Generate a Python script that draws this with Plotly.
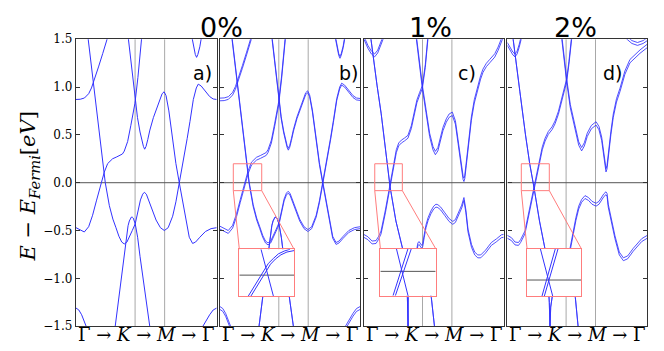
import plotly.graph_objects as go

W, H = 664, 351

# high-symmetry points as fraction of the Γ→K→M→Γ path
K_POS = 0.42
M_POS = 0.63
Y_TICKS = [-1.5, -1.0, -0.5, 0.0, 0.5, 1.0, 1.5]

TITLES = ["0%", "1%", "2%"]
PANEL_LABELS = ["a)", "b)", "c)", "d)"]
PATH_LABEL = "Γ → <i>K</i> → <i>M</i> → Γ"

# ---------------- panel a / b (0 %) ----------------
A_F = [0, 0.03, 0.06, 0.09, 0.11, 0.135, 0.16, 0.19, 0.225]
A_E = [0.87, 0.872, 0.885, 0.93, 0.99, 1.09, 1.21, 1.35, 1.52]

C2_F = [0.085, 0.123, 0.171, 0.208, 0.237, 0.262, 0.284, 0.305, 0.325, 0.343, 0.362, 0.38, 0.4,
        0.421, 0.44, 0.458, 0.474, 0.486, 0.5, 0.521, 0.545, 0.569, 0.6, 0.628, 0.655, 0.687,
        0.71, 0.734, 0.77, 0.79, 0.81, 0.834, 0.855, 0.869, 0.89, 0.92, 0.95, 0.975, 1.0]
C2_E = [1.52, 1.04, 0.43, 0.0, -0.24, -0.38, -0.47, -0.56, -0.62, -0.64, -0.62, -0.57, -0.5,
        -0.43, -0.3, -0.18, -0.12, -0.1, -0.12, -0.2, -0.3, -0.39, -0.47, -0.5, -0.47, -0.35,
        -0.2, 0.0, 0.26, 0.46, 0.64, 0.87, 0.99, 1.03, 1.01, 0.95, 0.9, 0.875, 0.87]

C1_F = [0, 0.03, 0.059, 0.09, 0.118, 0.145, 0.166, 0.185, 0.201, 0.225, 0.26, 0.29, 0.308,
        0.33, 0.343, 0.367, 0.39, 0.419, 0.44, 0.467]
C1_E = [-0.47, -0.49, -0.515, -0.46, -0.34, -0.19, -0.07, 0.03, 0.11, 0.2, 0.25, 0.27, 0.28,
        0.3, 0.33, 0.43, 0.6, 0.83, 1.1, 1.52]

C5_F = [0.371, 0.395, 0.419, 0.437, 0.455, 0.468, 0.479, 0.488, 0.498, 0.51, 0.525, 0.55, 0.573,
        0.595, 0.612, 0.626, 0.64, 0.66, 0.687, 0.71, 0.734, 0.76, 0.782, 0.805, 0.829, 0.85,
        0.88, 0.92, 0.96, 1.0]
C5_E = [1.52, 1.2, 0.87, 0.68, 0.53, 0.44, 0.38, 0.35, 0.38, 0.45, 0.55, 0.68, 0.78,
        0.88, 0.93, 0.95, 0.91, 0.75, 0.43, 0.2, 0.0, -0.2, -0.4, -0.57, -0.635, -0.62,
        -0.57, -0.51, -0.48, -0.47]

LAM_F = [0.277, 0.31, 0.339, 0.355, 0.37, 0.379, 0.386, 0.393, 0.4, 0.407, 0.421, 0.438, 0.455, 0.49, 0.526]
LAM_E = [-1.52, -1.12, -0.77, -0.57, -0.45, -0.4, -0.37, -0.36, -0.36, -0.37, -0.43, -0.57, -0.77, -1.15, -1.52]

V_F = [0.82, 0.835, 0.848, 0.857, 0.866, 0.88, 0.895]
V_E = [1.55, 1.42, 1.34, 1.31, 1.34, 1.42, 1.55]

ARCL_F = [0, 0.02, 0.04, 0.06, 0.08]
ARCL_E = [-1.31, -1.33, -1.38, -1.45, -1.53]
ARCR_F = [1.0, 0.975, 0.95, 0.92, 0.89]
ARCR_E = [-1.31, -1.33, -1.38, -1.45, -1.53]

# ---------------- panel c (1 %) ----------------
C1c_F = [0, 0.03, 0.06, 0.088, 0.105, 0.124, 0.155, 0.188, 0.21, 0.233, 0.25, 0.269, 0.29, 0.316,
         0.34, 0.36, 0.38, 0.40, 0.419, 0.44, 0.459]
C1c_E = [-0.555, -0.58, -0.625, -0.62, -0.58, -0.52, -0.3, -0.04, 0.16, 0.33, 0.4, 0.43, 0.45, 0.48,
         0.58, 0.72, 0.85, 0.93, 1.0, 1.22, 1.52]
C2c_F = [0.05, 0.066, 0.095, 0.125, 0.16, 0.188, 0.23, 0.278, 0.3, 0.312, 0.318]
C2c_E = [1.52, 1.33, 1.02, 0.72, 0.33, -0.04, -0.4, -0.69, -0.95, -1.2, -1.52]
C5c_F = [0.376, 0.398, 0.419, 0.445, 0.471, 0.495, 0.512, 0.53, 0.55, 0.566, 0.59, 0.61, 0.633,
         0.655, 0.674, 0.69, 0.702, 0.71, 0.716, 0.722, 0.733, 0.75, 0.769, 0.79, 0.816, 0.835,
         0.852, 0.876, 0.9, 0.936, 0.96, 0.983, 1.0]
C5c_E = [1.52, 1.25, 1.0, 0.75, 0.5, 0.36, 0.31, 0.35, 0.47, 0.56, 0.65, 0.7, 0.72,
         0.63, 0.43, 0.24, 0.1, 0.05, 0.03, 0.06, 0.2, 0.45, 0.67, 0.85, 1.0, 1.1,
         1.17, 1.23, 1.27, 1.33, 1.4, 1.5, 1.55]
Lc_F = [1.0, 0.983, 0.95, 0.912, 0.87, 0.836, 0.815, 0.793, 0.77, 0.745, 0.73, 0.716, 0.7, 0.674,
        0.655, 0.636, 0.61, 0.58, 0.55, 0.53, 0.516, 0.5, 0.48, 0.46, 0.445, 0.432, 0.422, 0.414,
        0.405, 0.395, 0.387, 0.38, 0.37, 0.36]
Lc_E = [-0.555, -0.56, -0.6, -0.64, -0.72, -0.77, -0.77, -0.74, -0.66, -0.5, -0.3, -0.17, -0.25, -0.34,
        -0.4, -0.42, -0.39, -0.33, -0.27, -0.245, -0.24, -0.26, -0.31, -0.38, -0.455, -0.56, -0.65, -0.67,
        -0.645, -0.63, -0.645, -0.69, -0.78, -0.88]
LAMc_F = [0.316, 0.318, 0.33, 0.35, 0.37, 0.39, 0.41, 0.43, 0.45, 0.467, 0.483, 0.507]
LAMc_E = [-1.52, -1.2, -1.0, -0.9, -0.86, -0.85, -0.86, -0.9, -0.98, -1.08, -1.2, -1.52]
Vc_F = [0.0, 0.03, 0.055, 0.078, 0.1, 0.12, 0.14]
Vc_E = [1.52, 1.42, 1.36, 1.33, 1.37, 1.44, 1.52]

# ---------------- panel d (2 %) ----------------
C1d_F = [0, 0.03, 0.055, 0.08, 0.095, 0.11, 0.126, 0.16, 0.191, 0.22, 0.25, 0.27, 0.293, 0.32,
         0.341, 0.365, 0.389, 0.424, 0.44, 0.46]
C1d_E = [-0.565, -0.59, -0.635, -0.64, -0.61, -0.57, -0.52, -0.28, -0.053, 0.15, 0.36, 0.45, 0.52, 0.57,
         0.63, 0.73, 0.87, 1.07, 1.25, 1.52]
C2d_F = [0.04, 0.055, 0.09, 0.13, 0.16, 0.191, 0.23, 0.269, 0.29, 0.3, 0.305]
C2d_E = [1.52, 1.36, 0.95, 0.5, 0.2, -0.053, -0.4, -0.69, -1.0, -1.25, -1.52]
C5d_F = [0.389, 0.405, 0.424, 0.45, 0.484, 0.51, 0.531, 0.55, 0.571, 0.6, 0.634, 0.655, 0.674,
         0.69, 0.7, 0.705, 0.712, 0.721, 0.74, 0.757, 0.78, 0.805, 0.84, 0.876, 0.91, 0.948, 1.0]
C5d_E = [1.52, 1.3, 1.07, 0.8, 0.56, 0.41, 0.35, 0.4, 0.5, 0.58, 0.62, 0.57, 0.46,
         0.3, 0.18, 0.13, 0.16, 0.3, 0.52, 0.7, 0.86, 0.97, 1.15, 1.27, 1.32, 1.37, 1.43]
Ld_F = [1.0, 0.96, 0.9, 0.86, 0.829, 0.8, 0.769, 0.745, 0.721, 0.713, 0.705, 0.69, 0.674, 0.655,
        0.634, 0.605, 0.58, 0.555, 0.531, 0.51, 0.49, 0.47, 0.448, 0.435, 0.42]
Ld_E = [-0.565, -0.6, -0.7, -0.78, -0.8, -0.74, -0.57, -0.42, -0.24, -0.13, -0.11, -0.13, -0.17, -0.21,
        -0.23, -0.21, -0.17, -0.15, -0.19, -0.26, -0.38, -0.52, -0.69, -0.8, -0.92]
LAMd_F = [0.305, 0.31, 0.33, 0.36, 0.39, 0.41, 0.43, 0.45, 0.47, 0.486, 0.507]
LAMd_E = [-1.52, -1.3, -1.1, -0.95, -0.9, -0.9, -0.93, -1.0, -1.1, -1.2, -1.52]
Vd_F = [0.0, 0.02, 0.04, 0.055, 0.07, 0.085, 0.1]
Vd_E = [1.45, 1.4, 1.35, 1.33, 1.36, 1.43, 1.52]
Td_F = [0.85, 0.89, 0.93, 0.97, 1.0]
Td_E = [1.52, 1.47, 1.45, 1.47, 1.5]

# spin splitting (eV) per band
PANELS = [
    [(A_F, A_E, 0), (C2_F, C2_E, 0), (C1_F, C1_E, 0), (C5_F, C5_E, 0), (LAM_F, LAM_E, 0),
     (V_F, V_E, 0), (ARCL_F, ARCL_E, 0), (ARCR_F, ARCR_E, 0)],
    [(A_F, A_E, 0.028), (C2_F, C2_E, 0.02), (C1_F, C1_E, 0.03), (C5_F, C5_E, 0.02), (LAM_F, LAM_E, 0.0),
     (V_F, V_E, 0.02), (ARCL_F, ARCL_E, 0.03), (ARCR_F, ARCR_E, 0.03)],
    [(C1c_F, C1c_E, 0.03), (C2c_F, C2c_E, 0.0), (C5c_F, C5c_E, 0.035), (Lc_F, Lc_E, 0.03),
     (LAMc_F, LAMc_E, 0.0), (Vc_F, Vc_E, 0.03)],
    [(C1d_F, C1d_E, 0.03), (C2d_F, C2d_E, 0.0), (C5d_F, C5d_E, 0.035), (Ld_F, Ld_E, 0.03),
     (LAMd_F, LAMd_E, 0.0), (Vd_F, Vd_E, 0.03), (Td_F, Td_E, 0.03)],
]

# insets: panel index, small box (f0,f1,E0,E1), inset box (f0,f1,E0,E1), inset Fermi level
INSETS = [
    (1, (0.095, 0.298, -0.083, 0.198), (0.138, 0.529, -1.184, -0.695), 0.446),
    (2, (0.079, 0.276, -0.083, 0.198), (0.119, 0.514, -1.181, -0.689), 0.517),
    (3, (0.100, 0.300, -0.083, 0.198), (0.141, 0.529, -1.184, -0.690), 0.338),
]
# inset curves in inset-local coordinates
INSET_LINES = [
    [([0.396, 0.5, 0.622], [1, 0.55, 0]),
     ([0.165, 0.26, 0.348, 0.44, 0.53, 0.62, 0.713, 0.82, 0.927], [0, 0.18, 0.358, 0.53, 0.696, 0.8, 0.9, 0.96, 1.0]),
     ([0.213, 0.3, 0.39, 0.48, 0.57, 0.66, 0.76, 0.87, 1.0], [0, 0.17, 0.35, 0.52, 0.68, 0.79, 0.88, 0.94, 0.97])],
    [([0.29, 0.5], [1, 0]), ([0.229, 0.5], [0, 1]), ([0.271, 0.56], [0, 1])],
    [([0.245, 0.472], [1, 0]), ([0.276, 0.521], [0, 1]), ([0.319, 0.571], [0, 1])],
]

# ---------------- geometry (pixels -> paper) ----------------
XD = [(76 / W, 216.7 / W), (220 / W, 360 / W), (363.7 / W, 503.7 / W), (507.3 / W, 647.3 / W)]
YD = ((H - 332.5) / H, (H - 33.5) / H)


def pxx(x):
    return x / W


def pxy(y):
    return 1 - y / H


def fx(i, f):
    return XD[i][0] + f * (XD[i][1] - XD[i][0])


def ey(E):
    return YD[0] + (E + 1.5) / 3.0 * (YD[1] - YD[0])


BLUE = "rgb(50,50,255)"
FRAME = "#333333"
RED = "rgb(255,125,125)"

fig = go.Figure()
layout = dict(width=W, height=H, margin=dict(l=0, r=0, t=0, b=0), autosize=False,
              paper_bgcolor="white", plot_bgcolor="white", showlegend=False)
shapes = []
annotations = []

for i, bands in enumerate(PANELS):
    n = i + 1
    xa = "x" if n == 1 else f"x{n}"
    ya = "y" if n == 1 else f"y{n}"
    layout["xaxis" if n == 1 else f"xaxis{n}"] = dict(
        domain=list(XD[i]), range=[0, 1], anchor=ya, showgrid=False, zeroline=False,
        showticklabels=False, ticks="", showline=True, mirror=True, linecolor=FRAME, linewidth=1.4)
    layout["yaxis" if n == 1 else f"yaxis{n}"] = dict(
        domain=list(YD), range=[-1.5, 1.5], anchor=xa, showgrid=False, zeroline=False,
        tickvals=Y_TICKS, tickformat=".1f", ticks="inside", ticklen=4, tickcolor=FRAME,
        showticklabels=(n == 1), showline=True, mirror="ticks", linecolor=FRAME, linewidth=1.4,
        tickfont=dict(family="DejaVu Serif", size=12, color="black"))
    # K, M and Fermi reference lines
    for xv in (K_POS, M_POS):
        shapes.append(dict(type="line", xref=xa, yref=ya, x0=xv, x1=xv, y0=-1.5, y1=1.5,
                           line=dict(color="#a8a8a8", width=1), layer="below"))
    shapes.append(dict(type="line", xref=xa, yref=ya, x0=0, x1=1, y0=0, y1=0,
                       line=dict(color="#555555", width=1), layer="below"))
    for fs, es, sp in bands:
        offs = [0.0] if (i == 0) else [-sp / 2, sp / 2]
        for o in offs:
            fig.add_trace(go.Scatter(x=fs, y=[e + o for e in es], mode="lines",
                                     line=dict(color=BLUE, width=1 if i == 0 else 0.85),
                                     xaxis=xa, yaxis=ya, hoverinfo="skip"))
    annotations.append(dict(text=PATH_LABEL, x=(XD[i][0] + XD[i][1]) / 2, y=pxy(341), xref="paper",
                            yref="paper", showarrow=False, xanchor="center", yanchor="middle",
                            font=dict(family="DejaVu Serif", size=18, color="black")))

# insets
for k, (pi, box, ins, fermi) in enumerate(INSETS):
    n = 5 + k
    xa, ya = f"x{n}", f"y{n}"
    pxa = f"x{pi + 1}"
    pya = f"y{pi + 1}"
    layout[f"xaxis{n}"] = dict(domain=[fx(pi, ins[0]), fx(pi, ins[1])], range=[0, 1], anchor=ya,
                               showgrid=False, zeroline=False, showticklabels=False, ticks="",
                               showline=True, mirror=True, linecolor=RED, linewidth=1)
    layout[f"yaxis{n}"] = dict(domain=[ey(ins[2]), ey(ins[3])], range=[0, 1], anchor=xa,
                               showgrid=False, zeroline=False, showticklabels=False, ticks="",
                               showline=True, mirror=True, linecolor=RED, linewidth=1)
    fig.add_trace(go.Scatter(x=[0, 1], y=[fermi, fermi], mode="lines",
                             line=dict(color="#555555", width=1), xaxis=xa, yaxis=ya, hoverinfo="skip"))
    for xs, ys in INSET_LINES[k]:
        fig.add_trace(go.Scatter(x=xs, y=ys, mode="lines", line=dict(color=BLUE, width=1),
                                 xaxis=xa, yaxis=ya, hoverinfo="skip"))
    shapes.append(dict(type="rect", xref=pxa, yref=pya, x0=box[0], x1=box[1], y0=box[2], y1=box[3],
                       line=dict(color=RED, width=1)))
    shapes.append(dict(type="line", xref=pxa, yref=pya, x0=box[0], y0=box[2], x1=ins[0], y1=ins[3],
                       line=dict(color=RED, width=1)))
    shapes.append(dict(type="line", xref=pxa, yref=pya, x0=box[1], y0=box[2], x1=ins[1], y1=ins[3],
                       line=dict(color=RED, width=1)))

# titles and panel labels
for t, xc in zip(TITLES, (221.7, 430.5, 575.7)):
    annotations.append(dict(text=t, x=pxx(xc), y=pxy(21), xref="paper", yref="paper", showarrow=False,
                            xanchor="center", yanchor="middle",
                            font=dict(family="DejaVu Sans", size=27, color="black")))
for t, xc in zip(PANEL_LABELS, (202.7, 348, 467, 612)):
    annotations.append(dict(text=t, x=pxx(xc), y=pxy(69), xref="paper", yref="paper", showarrow=False,
                            xanchor="center", yanchor="middle",
                            font=dict(family="DejaVu Sans", size=19, color="black")))

annotations.append(dict(text="<i>E</i> − <i>E</i><sub><i>Fermi</i></sub>[<i>eV</i>]",
                        x=pxx(29), y=pxy(187), xref="paper", yref="paper", showarrow=False,
                        textangle=-90, xanchor="center", yanchor="middle",
                        font=dict(family="DejaVu Serif", size=21, color="black")))

layout["shapes"] = shapes
layout["annotations"] = annotations
fig.update_layout(**layout)
fig.write_html("out.html")
